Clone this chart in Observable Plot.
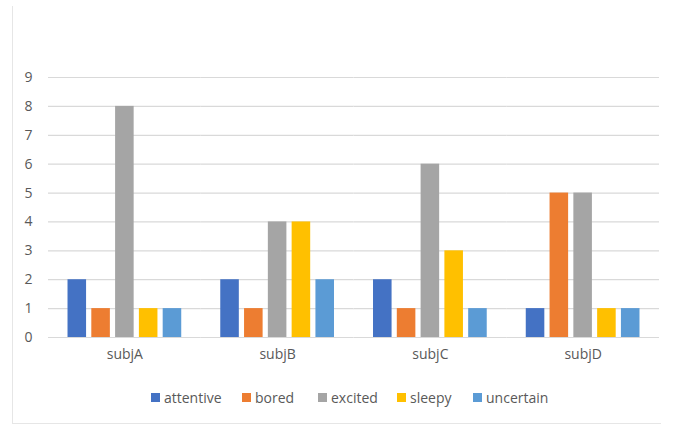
<!DOCTYPE html>
<html>
<head>
<meta charset="utf-8">
<script src="https://cdn.jsdelivr.net/npm/d3@7"></script>
<script src="https://cdn.jsdelivr.net/npm/@observablehq/plot@0.6"></script>
<style>
  html, body { margin: 0; padding: 0; background: #fff; }
  #chart { position: relative; width: 673px; height: 425px; overflow: hidden; font-family: "Open Sans", sans-serif; }
  #frame { position: absolute; left: 12px; top: 6px; width: 648px; height: 417px;
           border-left: 1.5px solid #e6e6e6; border-bottom: 1px solid #e6e6e6; }
  #plot { position: absolute; left: 0; top: 0; }
  #legend { position: absolute; left: 0; top: 388px; width: 673px; height: 20px; font-size: 14px; color: #595959; }
  .item { position: absolute; top: 0; display: flex; align-items: center; white-space: nowrap; }
  .sw { width: 9px; height: 9px; margin-right: 4px; }
</style>
</head>
<body>
<div id="chart">
  <div id="frame"></div>
  <div id="plot"></div>
  <div id="legend"></div>
</div>
<script>
// Subjects on the horizontal axis
const subjects = ["subjA", "subjB", "subjC", "subjD"];
// Mood categories (one bar each per subject)
const moods = ["attentive", "bored", "excited", "sleepy", "uncertain"];
const moodColors = ["#4472C4", "#ED7D31", "#A5A5A5", "#FFC000", "#5B9BD5"];

// Counts per subject, one array per mood
const attentive = [2, 2, 2, 1];
const bored     = [1, 1, 1, 5];
const excited   = [8, 4, 6, 5];
const sleepy    = [1, 4, 3, 1];
const uncertain = [1, 2, 1, 1];

const yTicks = [0, 1, 2, 3, 4, 5, 6, 7, 8, 9];

const seriesValues = [attentive, bored, excited, sleepy, uncertain];
const rows = subjects.flatMap((s, i) =>
  moods.map((m, j) => ({subject: s, mood: m, count: seriesValues[j][i]}))
);

const chart = Plot.plot({
  width: 673,
  height: 375,
  marginLeft: 48,
  marginRight: 14,
  marginTop: 77,
  marginBottom: 38,
  style: {fontFamily: "'Open Sans', sans-serif", fontSize: "14px", color: "#595959", background: "transparent"},
  fx: {domain: subjects, padding: 0, round: false, label: null, tickSize: 0, tickPadding: 12},
  x: {domain: moods, paddingInner: 0.22, paddingOuter: 0.82, round: false, axis: null},
  y: {domain: [0, 9], ticks: yTicks, label: null, tickSize: 0, tickPadding: 16, tickFormat: d3.format("d")},
  color: {domain: moods, range: moodColors},
  marks: [
    Plot.gridY(yTicks, {stroke: "#d9d9d9", strokeOpacity: 1, strokeWidth: 1.2}),
    Plot.barY(rows, {fx: "subject", x: "mood", y: "count", fill: "mood"})
  ]
});
document.getElementById("plot").appendChild(chart);

// Legend row under the plot, each entry at its own horizontal slot
const legendLeft = [151, 242, 318, 397, 473];
const legend = d3.select("#legend");
moods.forEach((m, i) => {
  const item = legend.append("div").attr("class", "item").style("left", legendLeft[i] + "px");
  item.append("div").attr("class", "sw").style("background", moodColors[i]);
  item.append("span").text(m);
});
</script>
</body>
</html>
